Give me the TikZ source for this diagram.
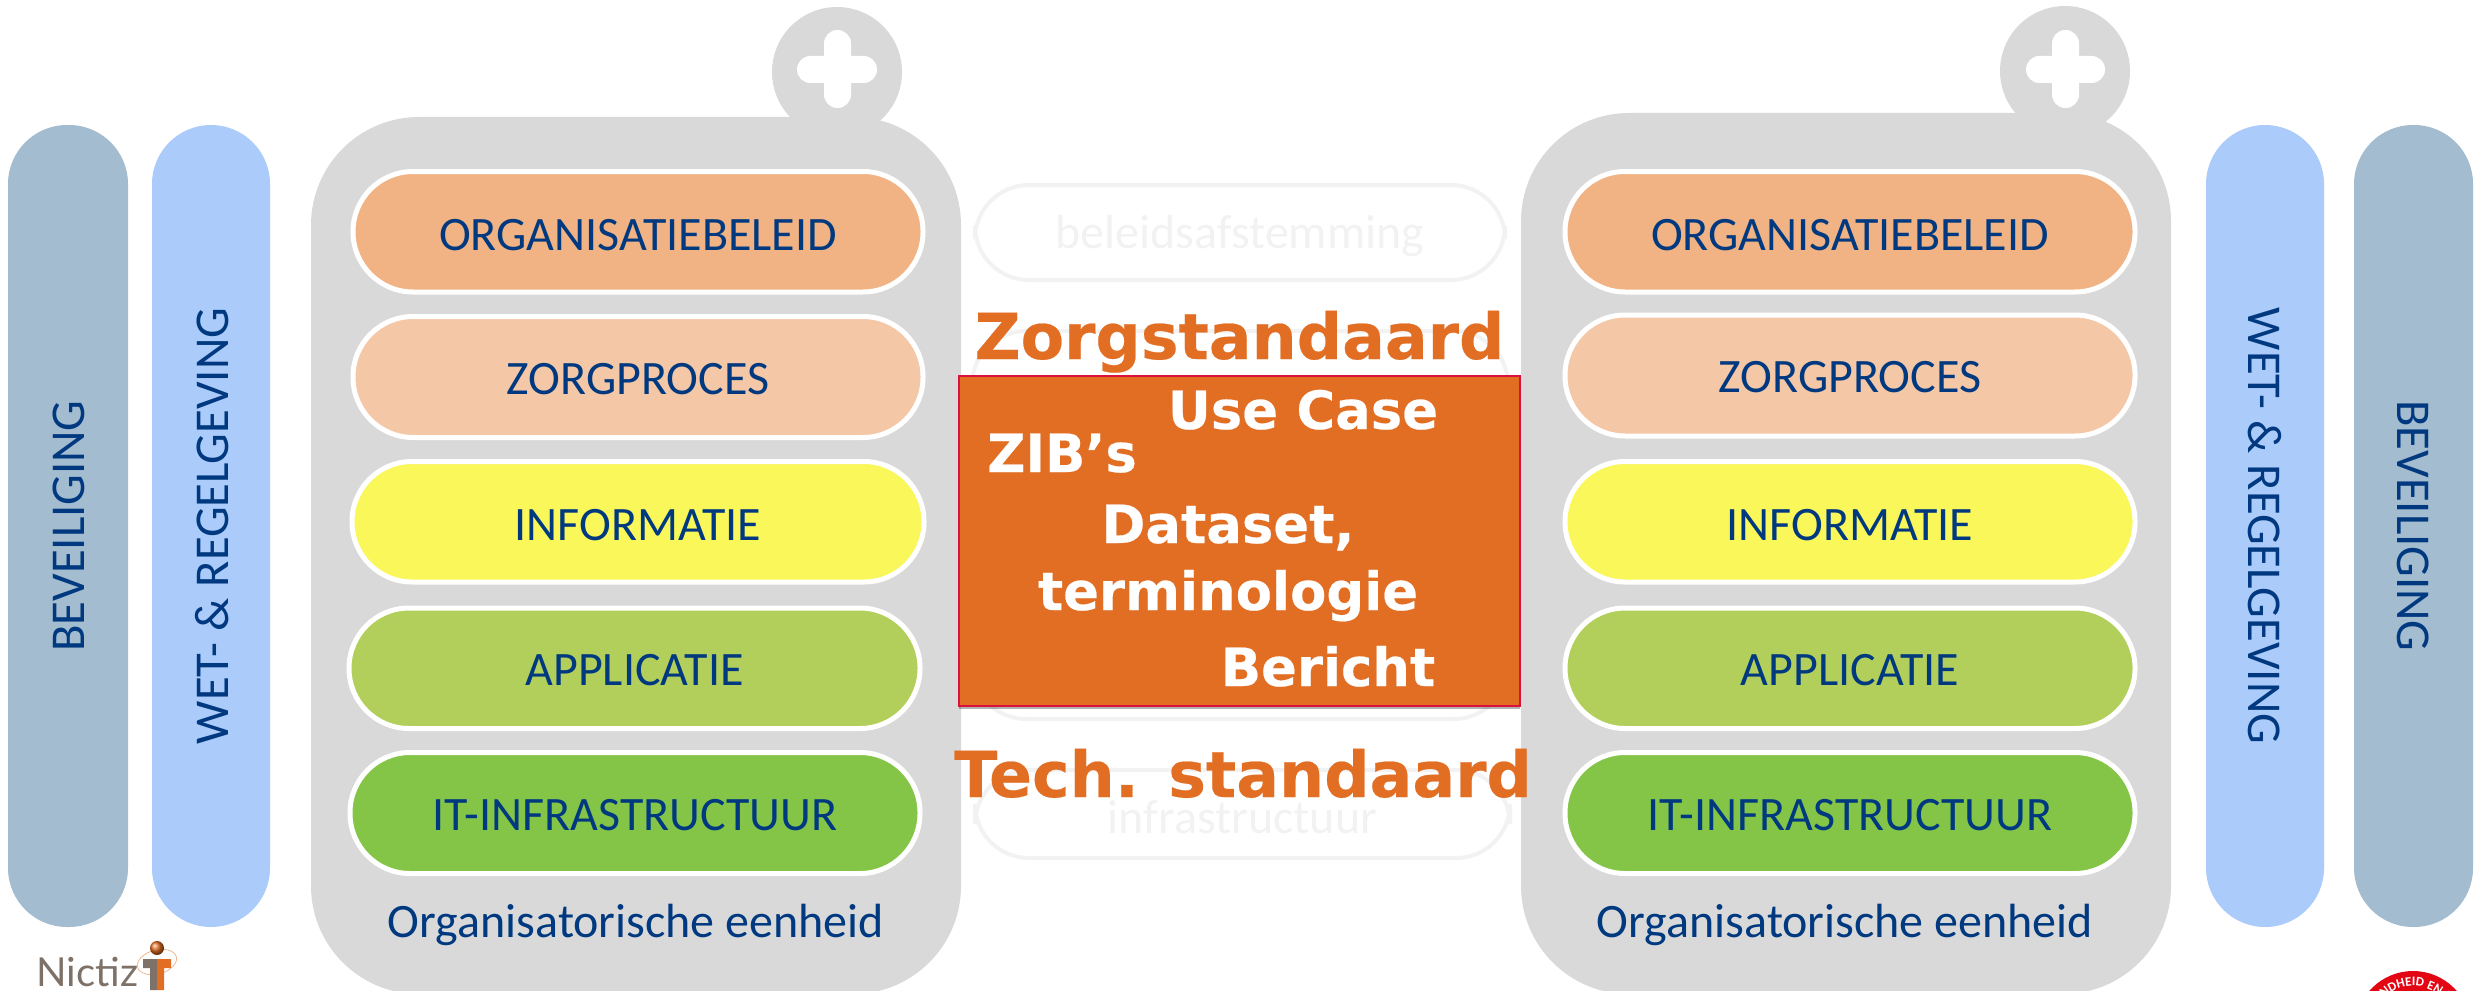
\documentclass[tikz,border=0pt]{standalone}
\usepackage{fontspec}
\setmainfont{Carlito}
\newfontfamily\dvb[FakeBold=0.35]{DejaVu Sans Bold}
\newfontfamily\lato{Lato}
\usetikzlibrary{decorations.text,shadows}
\definecolor{navy}{HTML}{00397F}
\definecolor{boxgray}{HTML}{D9D9D9}
\definecolor{steel}{HTML}{A3BCD0}
\definecolor{skyb}{HTML}{ABCBFA}
\definecolor{c1}{HTML}{F1B383}
\definecolor{c2}{HTML}{F4C7A7}
\definecolor{c3}{HTML}{F9F759}
\definecolor{c4}{HTML}{B3CF5B}
\definecolor{c5}{HTML}{84C548}
\definecolor{ghost}{HTML}{F2F2F2}
\definecolor{orng}{HTML}{E26E24}
\definecolor{crim}{HTML}{D8123C}
\definecolor{logogray}{HTML}{7D7168}
\definecolor{seal}{HTML}{E30613}
\newcommand\bx[7]{%
  \pgfmathsetmacro\bw{(#4-(#2))/2}\pgfmathsetmacro\bh{(#5-(#3))/2}%
  \node[#6,minimum width=\bw pt,minimum height=\bh pt] (#1) at ({(#2+#4)/2},{(#3+#5)/2}) {#7};}
\newcommand\lowered[2]{\raisebox{-#1pt}[\height][\depth]{#2}}
\tikzset{
  x=0.5pt,y=-0.5pt,
  shell/.style={fill=boxgray,rounded corners=54pt,inner sep=0pt},
  sidepill/.style={rounded corners=29.5pt,inner sep=0pt},
  layer/.style={draw=white,line width=2.5pt,rounded corners=30pt,inner sep=0pt,text=navy,font=\fontsize{24}{25}\selectfont},
  ghostpill/.style={draw=ghost,line width=2pt,rounded corners=27pt,inner sep=0pt,text=ghost,font=\fontsize{24}{25}\selectfont},
  vlabel/.style={text=navy,font=\fontsize{24.3}{25}\selectfont,inner sep=0pt},
  unitlabel/.style={text=navy,font=\fontsize{24}{25}\selectfont,inner sep=0pt,anchor=base},
  bigorange/.style={text=orng,font=\dvb\fontsize{31.7}{32}\selectfont,inner sep=0pt,anchor=base},
  whitelabel/.style={text=white,font=\dvb\fontsize{26.4}{27}\selectfont,inner sep=0pt,anchor=base},
  knob/.style={fill=boxgray,circle,inner sep=0pt,minimum size=65pt},
  plusbar/.style={fill=white,inner sep=0pt,rounded corners=6.7pt},
}
\begin{document}
\begin{tikzpicture}
\useasboundingbox (0,0) rectangle (2476,990);
\clip (0,0) rectangle (2476,990);
% side pills
\bx{secL}{8}{125}{128}{927}{sidepill,fill=steel}{}
\bx{lawL}{152}{125}{270}{927}{sidepill,fill=skyb}{}
\bx{lawR}{2206}{125}{2324}{927}{sidepill,fill=skyb}{}
\bx{secR}{2354}{125}{2473}{927}{sidepill,fill=steel}{}
\node[vlabel,rotate=90] (secLt) at (69,526) {BEVEILIGING};
\node[vlabel,rotate=90] (lawLt) at (212,526) {WET- \& REGELGEVING};
\node[vlabel,rotate=-90] (lawRt) at (2265,526) {WET- \& REGELGEVING};
\node[vlabel,rotate=-90] (secRt) at (2413,526) {BEVEILIGING};
% left unit
\node[knob] (knobL) at (837,72) {};
\bx{shellL}{311}{117}{961}{994}{shell}{}
\bx{plusLv}{824}{30}{851}{108}{plusbar}{}
\bx{plusLh}{797}{56}{877}{83}{plusbar}{}
\bx{l1}{353}{171.5}{923}{292}{layer,fill=c1}{\lowered{1.5}{ORGANISATIEBELEID}}
\bx{l2}{353}{316.5}{923}{437.5}{layer,fill=c2}{\lowered{0.8}{ZORGPROCES}}
\bx{l3}{352}{461.5}{924}{582}{layer,fill=c3}{\lowered{1.5}{INFORMATIE}}
\bx{l4}{349}{608}{920}{728.5}{layer,fill=c4}{\lowered{0.8}{APPLICATIE}}
\bx{l5}{350}{752.5}{920}{873.5}{layer,fill=c5}{\lowered{0.8}{IT-INFRASTRUCTUUR}}
\node[unitlabel] (unitL) at (636,937) {Organisatorische eenheid};
% right unit
\node[knob] (knobR) at (2065,71) {};
\bx{shellR}{1521}{113}{2171}{994}{shell}{}
\bx{plusRv}{2052}{30}{2079}{108}{plusbar}{}
\bx{plusRh}{2026}{56}{2105}{83}{plusbar}{}
\bx{r1}{1565}{171.5}{2135}{292}{layer,fill=c1}{\lowered{1.5}{ORGANISATIEBELEID}}
\bx{r2}{1565}{315}{2135}{436}{layer,fill=c2}{\lowered{0.8}{ZORGPROCES}}
\bx{r3}{1565}{461.5}{2135}{582}{layer,fill=c3}{\lowered{1.5}{INFORMATIE}}
\bx{r4}{1565}{608}{2135}{728.5}{layer,fill=c4}{\lowered{0.8}{APPLICATIE}}
\bx{r5}{1565}{752.5}{2135}{873.5}{layer,fill=c5}{\lowered{0.8}{IT-INFRASTRUCTUUR}}
\node[unitlabel] (unitR) at (1845,937) {Organisatorische eenheid};
% ghost middle
\bx{g1}{975}{185}{1505}{280}{ghostpill}{\lowered{1.5}{beleidsafstemming}}
\bx{g2}{972}{331}{1508}{470}{ghostpill}{}
\bx{g4}{972}{600}{1508}{719}{ghostpill}{}
\bx{g5}{975}{770}{1510}{858}{ghostpill}{\lowered{1.5}{infrastructuur}}
% standard
\bx{std}{959}{376}{1520}{706}{fill=orng,draw=crim,line width=0.8pt,inner sep=0pt,drop shadow={shadow xshift=0pt,shadow yshift=-1.5pt,opacity=0.3,fill=black}}{}
\node[bigorange] (zorg) at (1239.5,359) {Zorgstandaard};
\node[bigorange] (tech) at (1243,797) {Tech. standaard};
\node[whitelabel] (uc) at (1303,429) {Use Case};
\node[whitelabel] (zib) at (1062,472) {ZIB’s};
\node[whitelabel] (ds) at (1228,543) {Dataset,};
\node[whitelabel] (term) at (1228,610) {terminologie};
\node[whitelabel] (ber) at (1328,686) {Bericht};
% logo
\node[text=logogray,font=\lato\fontsize{20}{20}\selectfont,inner sep=0pt,anchor=base west] (nictiz) at (36,986) {Nictiz};
\draw[orng!50,line width=0.4pt,rotate around={15:(157,962)}] (157,962) ellipse (10pt and 6pt);
\fill[logogray] (143,959) rectangle (157,968) (150,959) rectangle (157,990);
\fill[orng] (157,959) rectangle (171,968) (157,959) rectangle (164,990);
\shade[ball color=orng] (157,948) circle (3.5pt);
% seal
\fill[seal] (2413,1029) circle (29pt);
\path[decorate,decoration={text along path,text align=center,text={|\fontsize{6.5}{7}\selectfont\bfseries\color{white}|GEZONDHEID EN ZORG}}]
  (2413,1029) ++(160:21.5pt) arc[start angle=160,end angle=20,radius=21.5pt];
\end{tikzpicture}
\end{document}
